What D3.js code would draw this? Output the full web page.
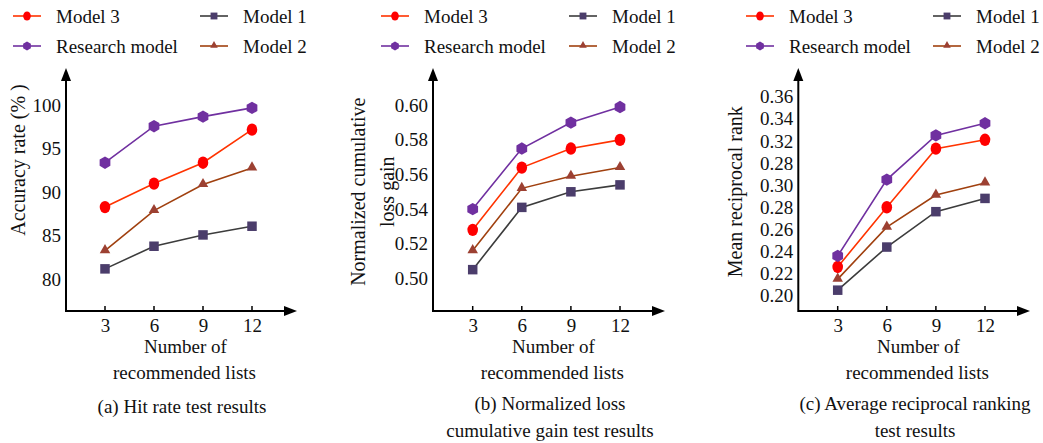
<!DOCTYPE html>
<html lang="en">
<head>
    <meta charset="UTF-8">
    <title>Recommendation test results</title>
    <script src="https://d3js.org/d3.v7.min.js"></script>
    <style>
        body { margin: 0; background: #fff; }
        text { font-family: "Liberation Serif", "Times New Roman", serif; fill: #111; }
        .axis path, .axis line { stroke: #000; }
    </style>
</head>
<body>
    <div id="chart"></div>
    <script>
        // shared data
        const xValues = [3, 6, 9, 12];
        const seriesNames = ["Model 3", "Research model", "Model 1", "Model 2"];

        // (a) hit rate
        const hitModel3 = [88.3, 91.0, 93.4, 97.2];
        const hitResearch = [93.4, 97.6, 98.7, 99.7];
        const hitModel1 = [81.2, 83.8, 85.1, 86.1];
        const hitModel2 = [83.3, 87.9, 90.9, 92.8];
        const hitTicks = [80, 85, 90, 95, 100];
        const hitTickLabels = ["80", "85", "90", "95", "100"];

        // (b) normalized loss cumulative gain
        const ndcgModel3 = [0.528, 0.564, 0.575, 0.580];
        const ndcgResearch = [0.540, 0.575, 0.590, 0.599];
        const ndcgModel1 = [0.505, 0.541, 0.550, 0.554];
        const ndcgModel2 = [0.516, 0.552, 0.559, 0.564];
        const ndcgTicks = [0.50, 0.52, 0.54, 0.56, 0.58, 0.60];
        const ndcgTickLabels = ["0.50", "0.52", "0.54", "0.56", "0.58", "0.60"];

        // (c) mean reciprocal rank (tick labels as printed in the source)
        const mrrModel3 = [0.226, 0.280, 0.333, 0.341];
        const mrrResearch = [0.236, 0.305, 0.345, 0.356];
        const mrrModel1 = [0.205, 0.244, 0.276, 0.288];
        const mrrModel2 = [0.215, 0.262, 0.291, 0.302];
        const mrrTicks = [0.20, 0.22, 0.24, 0.26, 0.28, 0.30, 0.32, 0.34, 0.36, 0.38];
        const mrrTickLabels = ["0.20", "0.22", "0.24", "0.26", "0.28", "0.30", "0.28", "0.32", "0.34", "0.36"];

        const styles = {
            "Model 3": { line: "#ff3300", fill: "#ff0000", shape: "circle" },
            "Research model": { line: "#7030a0", fill: "#7030a0", shape: "hexagon" },
            "Model 1": { line: "#3c3c3c", fill: "#4b3d6b", shape: "square" },
            "Model 2": { line: "#a0400f", fill: "#9c4032", shape: "triangle" }
        };

        const panels = [
            {
                values: [hitModel3, hitResearch, hitModel1, hitModel2],
                ticks: hitTicks, labels: hitTickLabels,
                domain: [80, 100], yRange: [279.3, 105.3],
                axisX: 66, xRange: [105, 252], xEnd: 297,
                yTitle: ["Accuracy rate (% )"], yTitleX: [18], yTitleY: 160,
                legendX: [13, 200], caption: ["(a) Hit rate test results"], captionX: 182
            },
            {
                values: [ndcgModel3, ndcgResearch, ndcgModel1, ndcgModel2],
                ticks: ndcgTicks, labels: ndcgTickLabels,
                domain: [0.50, 0.60], yRange: [278.3, 105.3],
                axisX: 433, xRange: [472.7, 620], xEnd: 665,
                yTitle: ["Normalized cumulative", "loss gain"], yTitleX: [358, 386.5], yTitleY: 191.7,
                legendX: [381, 569], caption: ["(b) Normalized loss", "cumulative gain test results"], captionX: 550
            },
            {
                values: [mrrModel3, mrrResearch, mrrModel1, mrrModel2],
                ticks: mrrTicks, labels: mrrTickLabels,
                domain: [0.20, 0.38], yRange: [295.7, 96.7],
                axisX: 798.3, xRange: [837.7, 985], xEnd: 1030,
                yTitle: ["Mean reciprocal rank"], yTitleX: [735], yTitleY: 191.7,
                legendX: [746, 933], caption: ["(c) Average reciprocal ranking", "test results"], captionX: 915
            }
        ];

        const svg = d3.select("#chart")
            .append("svg")
            .attr("width", 1043)
            .attr("height", 443);

        const xAxisY = 311;
        const yAxisTop = 68;
        const fs = 19;

        function drawMarker(g, shape, fill, cx, cy, k) {
            if (shape === "circle") {
                g.append("ellipse").attr("cx", cx).attr("cy", cy)
                    .attr("rx", 5.3 * k).attr("ry", 6.2 * k).attr("fill", fill);
            } else if (shape === "hexagon") {
                const r = 6.2 * k;
                const pts = d3.range(6).map(i => {
                    const a = Math.PI / 3 * i - Math.PI / 2;
                    return [cx + r * Math.cos(a), cy + r * Math.sin(a)];
                });
                g.append("path").attr("d", d3.line()(pts) + "Z").attr("fill", fill);
            } else if (shape === "square") {
                const s = 9.5 * k;
                g.append("rect").attr("x", cx - s / 2).attr("y", cy - s / 2)
                    .attr("width", s).attr("height", s).attr("fill", fill);
            } else {
                g.append("path")
                    .attr("d", d3.symbol(d3.symbolTriangle, 48 * k * k)())
                    .attr("transform", `translate(${cx},${cy - 0.5})`)
                    .attr("fill", fill);
            }
        }

        panels.forEach(p => {
            const g = svg.append("g");
            const x = d3.scaleLinear().domain([3, 12]).range(p.xRange);
            const y = d3.scaleLinear().domain(p.domain).range(p.yRange);

            // axes lines with arrows
            g.append("line").attr("x1", p.axisX).attr("x2", p.xEnd - 10)
                .attr("y1", xAxisY).attr("y2", xAxisY)
                .attr("stroke", "#000").attr("stroke-width", 2);
            g.append("path")
                .attr("d", `M${p.xEnd},${xAxisY} L${p.xEnd - 13},${xAxisY - 5} L${p.xEnd - 13},${xAxisY + 5} Z`)
                .attr("fill", "#000");
            g.append("line").attr("x1", p.axisX).attr("x2", p.axisX)
                .attr("y1", xAxisY + 1).attr("y2", yAxisTop + 10)
                .attr("stroke", "#000").attr("stroke-width", 2);
            g.append("path")
                .attr("d", `M${p.axisX},${yAxisTop} L${p.axisX - 5},${yAxisTop + 13} L${p.axisX + 5},${yAxisTop + 13} Z`)
                .attr("fill", "#000");

            // x axis ticks and labels
            const xAxis = d3.axisBottom(x).tickValues(xValues).tickSize(0).tickPadding(8);
            const xg = g.append("g").attr("class", "axis")
                .attr("transform", `translate(0,${xAxisY})`)
                .call(xAxis);
            xg.select(".domain").remove();
            xg.selectAll("text").attr("font-size", fs).style("font-family", "Liberation Serif, serif");
            g.selectAll(".xtick").data(xValues).join("line")
                .attr("x1", d => x(d)).attr("x2", d => x(d))
                .attr("y1", xAxisY).attr("y2", xAxisY - 5)
                .attr("stroke", "#000").attr("stroke-width", 1.5);

            // y axis labels
            const yAxis = d3.axisLeft(y).tickValues(p.ticks)
                .tickFormat((d, i) => p.labels[i]).tickSize(0).tickPadding(5);
            const yg = g.append("g").attr("class", "axis")
                .attr("transform", `translate(${p.axisX},0)`)
                .call(yAxis);
            yg.select(".domain").remove();
            yg.selectAll("text").attr("font-size", fs).style("font-family", "Liberation Serif, serif");

            // y title
            p.yTitle.forEach((t, i) => {
                g.append("text")
                    .attr("transform", `translate(${p.yTitleX[i]},${p.yTitleY}) rotate(-90)`)
                    .attr("text-anchor", "middle").attr("dominant-baseline", "central")
                    .attr("font-size", 20).text(t);
            });

            // x title and caption
            const cx = (p.xRange[0] + p.xRange[1]) / 2 + 7;
            g.append("text").attr("x", cx).attr("y", 346.5).attr("text-anchor", "middle")
                .attr("dominant-baseline", "central").attr("font-size", fs).text("Number of");
            g.append("text").attr("x", cx - 1).attr("y", 372).attr("text-anchor", "middle")
                .attr("dominant-baseline", "central").attr("font-size", fs).text("recommended lists");
            p.caption.forEach((t, i) => {
                g.append("text").attr("x", p.captionX).attr("y", (p.caption.length > 1 ? 403.5 : 406.5) + i * 26.5)
                    .attr("text-anchor", "middle").attr("dominant-baseline", "central")
                    .attr("font-size", fs).text(t);
            });

            // series lines
            const line = d3.line().x((d, i) => x(xValues[i])).y(d => y(d));
            seriesNames.forEach((name, s) => {
                g.append("path").datum(p.values[s])
                    .attr("d", line).attr("fill", "none")
                    .attr("stroke", styles[name].line).attr("stroke-width", 1.6);
            });
            seriesNames.forEach((name, s) => {
                p.values[s].forEach((v, i) => {
                    drawMarker(g, styles[name].shape, styles[name].fill, x(xValues[i]), y(v), 1);
                });
            });

            // legend: two columns, two rows
            seriesNames.forEach((name, s) => {
                const lx = p.legendX[Math.floor(s / 2)];
                const ly = s % 2 === 0 ? 16 : 46;
                const st = styles[name];
                g.append("line").attr("x1", lx).attr("x2", lx + 28)
                    .attr("y1", ly).attr("y2", ly)
                    .attr("stroke", st.line).attr("stroke-width", 1.6);
                drawMarker(g, st.shape, st.fill, lx + 14, ly, 0.72);
                g.append("text").attr("x", lx + 43).attr("y", ly)
                    .attr("dominant-baseline", "central").attr("font-size", fs).text(name);
            });
        });
    </script>
</body>
</html>
